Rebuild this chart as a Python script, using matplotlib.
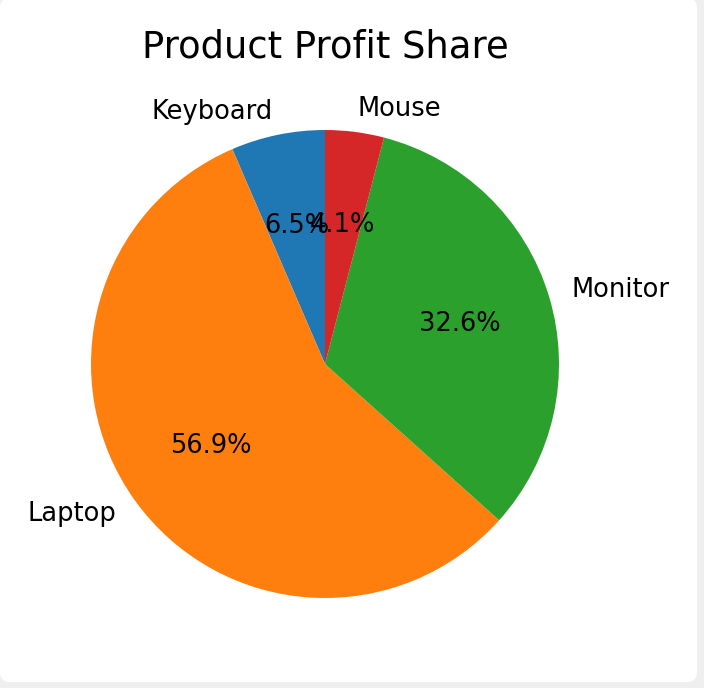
import matplotlib
matplotlib.use("Agg")
import matplotlib.pyplot as plt
from matplotlib.patches import FancyBboxPatch

# Profit share per product (estimated from the chart)
products = ["Keyboard", "Laptop", "Monitor", "Mouse"]
profit = [6.48, 56.88, 32.58, 4.06]
colors = ["#1f77b4", "#ff7f0e", "#2ca02c", "#d62728"]

W, H = 704, 688
fig = plt.figure(figsize=(W / 100, H / 100), dpi=100)
fig.patch.set_facecolor("#efefef")

# white card with rounded corners (pixel coords, origin bottom-left)
card = FancyBboxPatch((0, 6), 697, 684, boxstyle="round,pad=0,rounding_size=10",
                      transform=None, facecolor="white", edgecolor="none", zorder=-5)
fig.patches.append(card)

# pie axes: centre ~(325, 364) px, radius ~234 px
r = 234
cx, cy = 325, 364
side = 2.5 * r
ax = fig.add_axes([(cx - side / 2) / W, (H - cy - side / 2) / H, side / W, side / H])
ax.pie(profit, labels=products, colors=colors, autopct="%1.1f%%", startangle=90,
       textprops={"fontsize": 18.5})
ax.set_xlim(-1.25, 1.25)
ax.set_ylim(-1.25, 1.25)
ax.set_aspect("equal")

fig.text(cx / W, 1 - 57 / H, "Product Profit Share", ha="center", va="baseline",
         fontsize=26.6)

fig.savefig("out.png", dpi=100, facecolor=fig.get_facecolor())
